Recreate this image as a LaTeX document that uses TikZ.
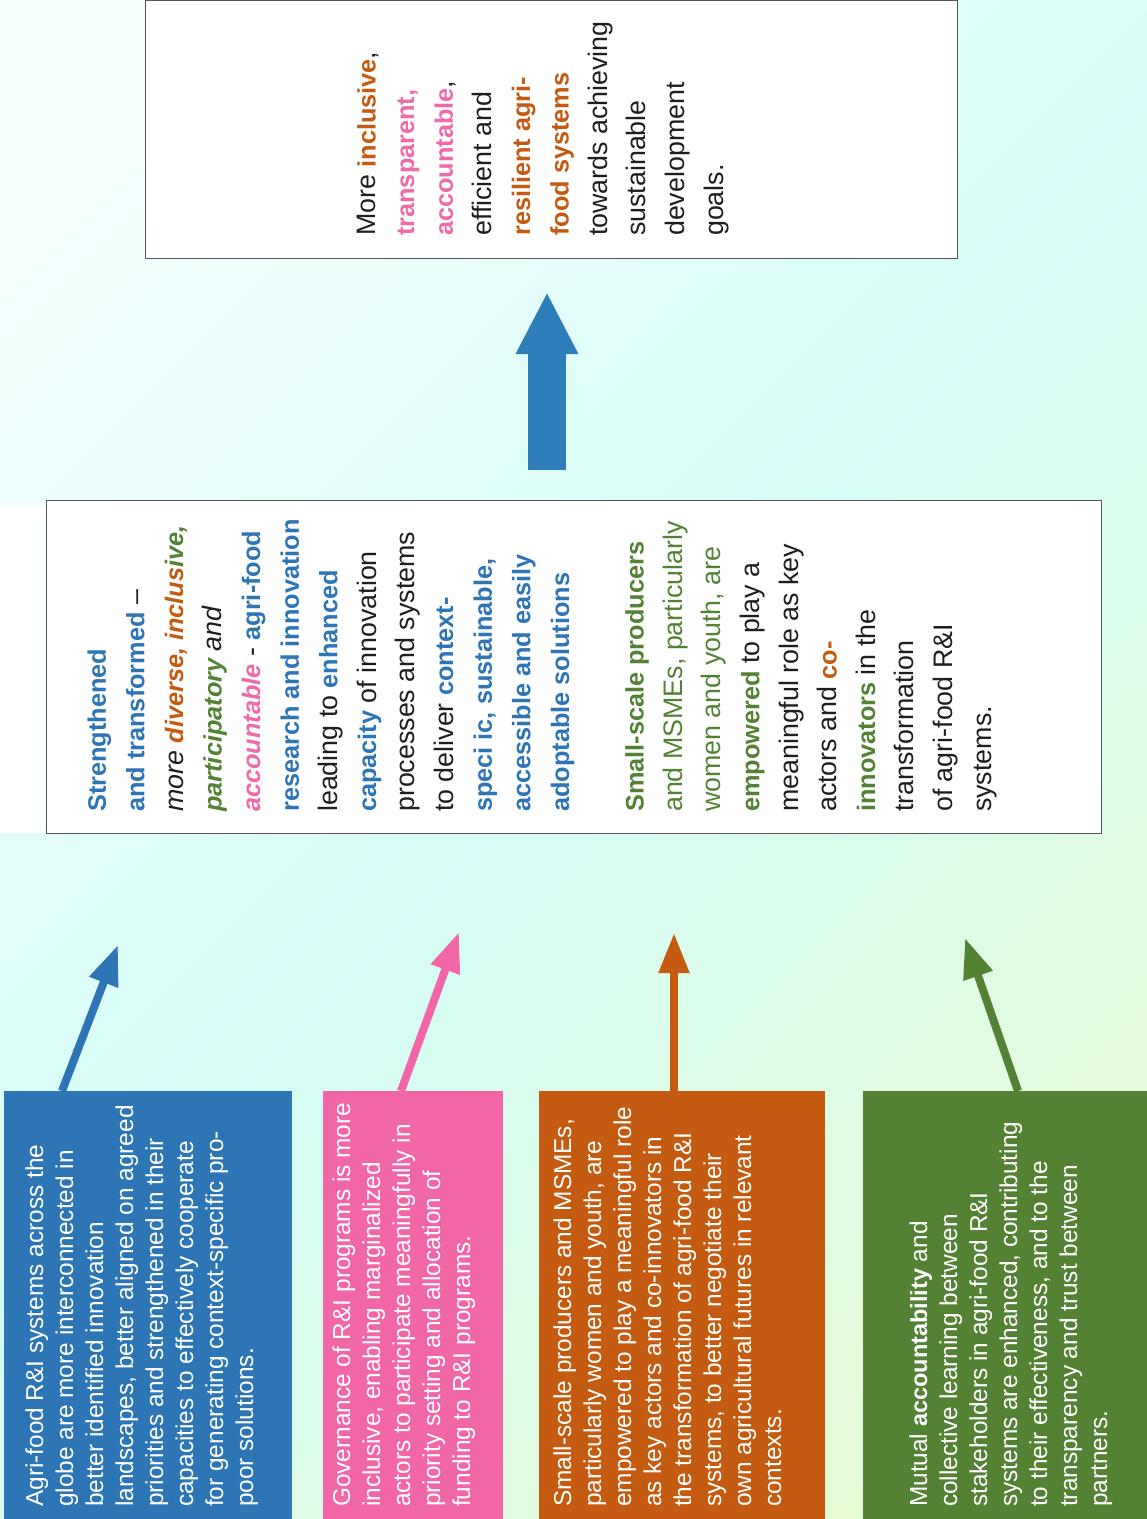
\documentclass[tikz,border=0pt]{standalone}
\usepackage{fontspec}
\setmainfont{Liberation Sans}
\usetikzlibrary{arrows.meta,calc}
\definecolor{cblue}{HTML}{2E75B6}
\definecolor{cpink}{HTML}{F066A6}
\definecolor{cpinkt}{HTML}{F06AAA}
\definecolor{corange}{HTML}{C55A11}
\definecolor{cgreen}{HTML}{548235}
\definecolor{bigarrow}{HTML}{2E7EBB}
\definecolor{txt}{HTML}{1E1E1E}
\definecolor{boxline}{HTML}{555555}
\definecolor{bgA}{HTML}{F4FFFE}
\definecolor{bgB}{HTML}{D5FCF6}
\definecolor{bgC}{HTML}{E6FBD3}
\pgfdeclarehorizontalshading{bgshade}{100bp}{color(0bp)=(bgA); color(22bp)=(bgA); color(50bp)=(bgB); color(80bp)=(bgC); color(100bp)=(bgC)}
\newcommand\hb[1]{{\fontsize{25.3pt}{38.6pt}\selectfont\bfseries #1}}
\newcommand\hbi[1]{{\fontsize{25.3pt}{38.6pt}\selectfont\bfseries\itshape #1}}
\newcommand\wb[1]{{\fontsize{23.5pt}{30pt}\selectfont\bfseries #1}}
\begin{document}
\begin{tikzpicture}[x=1pt,y=-1pt,
  framebox/.style={draw=boxline, line width=1.2pt, fill=white, inner sep=0pt, anchor=north west},
  bigtext/.style={rotate=90, anchor=base west, align=left, inner sep=0pt, text=txt, font=\fontsize{26.8pt}{38.6pt}\selectfont},
  smalltext/.style={rotate=90, anchor=base west, align=left, inner sep=0pt, text=white, font=\fontsize{24.4pt}{30pt}\selectfont},
  colbox/.style={inner sep=0pt, anchor=north west, minimum width=#1},
  thinarrow/.style={line width=8pt, -{Triangle[length=40pt,width=29pt]}}
]
\useasboundingbox (0,0) rectangle (1147,1519);
\shade[shading=bgshade, shading angle=-45] (0,0) rectangle (1147,1519);
\fill[white] (0,505) rectangle (45,833);

% goal box (text node anchored at the baseline of its last line)
\node[framebox, minimum width=812pt, minimum height=258pt] (goal) at (145,0) {};
\node[bigtext] (gtext) at (723,236) {More \hb{\color{corange}inclusive},\\
\hb{\color{cpinkt}transparent,}\\
\hb{\color{cpinkt}accountable},\\
efficient and\\
\hb{\color{corange}resilient agri-}\\
\hb{\color{corange}food systems}\\
towards achieving\\
sustainable\\
development\\
goals.};

% big arrow
\coordinate (ua) at (547,470);
\coordinate (ub) at (547,292);
\draw[bigarrow, line width=38pt, -{Triangle[length=62pt,width=58pt]}] (ua) -- (ub);

% middle box
\node[framebox, minimum width=1055pt, minimum height=333pt] (mid) at (46,500) {};
\node[bigtext] (mtext) at (991,812) {\hb{\color{cblue}Strengthened}\\
\hb{\color{cblue}and transformed} --\\
\textit{more} \hbi{\color{corange}diverse, inclus}\hbi{\color{cgreen}ive,}\\
\hbi{\color{cgreen}participatory} \textit{and}\\
\hbi{\color{cpinkt}accountable} - \hb{\color{cblue}agri-food}\\
\hb{\color{cblue}research and innovation}\\
leading to \hb{\color{cblue}enhanced}\\
\hb{\color{cblue}capacity} of innovation\\
processes and systems\\
to deliver \hb{\color{cblue}context-}\\
\hb{\color{cblue}speci ic, sustainable,}\\
\hb{\color{cblue}accessible and easily}\\
\hb{\color{cblue}adoptable solutions}\\[36pt]
\hb{\color{cgreen}Small-scale producers}\\
{\color{cgreen}and MSMEs, particularly}\\
{\color{cgreen}women and youth, are}\\
\hb{\color{cgreen}empowered} to play a\\
meaningful role as key\\
actors and \hb{\color{corange}co-}\\
\hb{\color{cgreen}innovators} in the\\
transformation\\
of agri-food R\&I\\
systems.};

% bottom boxes
\node[colbox=288pt, minimum height=428pt, fill=cblue] (b1) at (4,1091) {};
\node[colbox=180pt, minimum height=428pt, fill=cpink] (b2) at (323,1091) {};
\node[colbox=286pt, minimum height=428pt, fill=corange] (b3) at (539,1091) {};
\node[colbox=284pt, minimum height=428pt, fill=cgreen] (b4) at (863,1091) {};

\node[smalltext] (t1) at (253,1507) {Agri-food R\&I systems across the\\
globe are more interconnected in\\
better identified innovation\\
landscapes, better aligned on agreed\\
priorities and strengthened in their\\
capacities to effectively cooperate\\
for generating context-specific pro-\\
poor solutions.};

\node[smalltext] (t2) at (470,1507) {Governance of R\&I programs is more\\
inclusive, enabling marginalized\\
actors to participate meaningfully in\\
priority setting and allocation of\\
funding to R\&I programs.};

\node[smalltext] (t3) at (781,1507) {Small-scale producers and MSMEs,\\
particularly women and youth, are\\
empowered to play a meaningful role\\
as key actors and co-innovators in\\
the transformation of agri-food R\&I\\
systems, to better negotiate their\\
own agricultural futures in relevant\\
contexts.};

\node[smalltext] (t4) at (1107,1507) {Mutual \wb{accountability} and\\
collective learning between\\
stakeholders in agri-food R\&I\\
systems are enhanced, contributing\\
to their effectiveness, and to the\\
transparency and trust between\\
partners.};

% arrows from boxes
\coordinate (p1) at (118,945);
\coordinate (p2) at (459,932);
\coordinate (p3) at (674,933);
\coordinate (p4) at (965,938);
\draw[thinarrow, cblue] ($(b1.north west)+(58,0)$) -- (p1);
\draw[thinarrow, cpink] ($(b2.north west)+(78,0)$) -- (p2);
\draw[thinarrow, corange] ($(b3.north west)+(135,0)$) -- (p3);
\draw[thinarrow, cgreen] ($(b4.north west)+(155,0)$) -- (p4);
\end{tikzpicture}
\end{document}
